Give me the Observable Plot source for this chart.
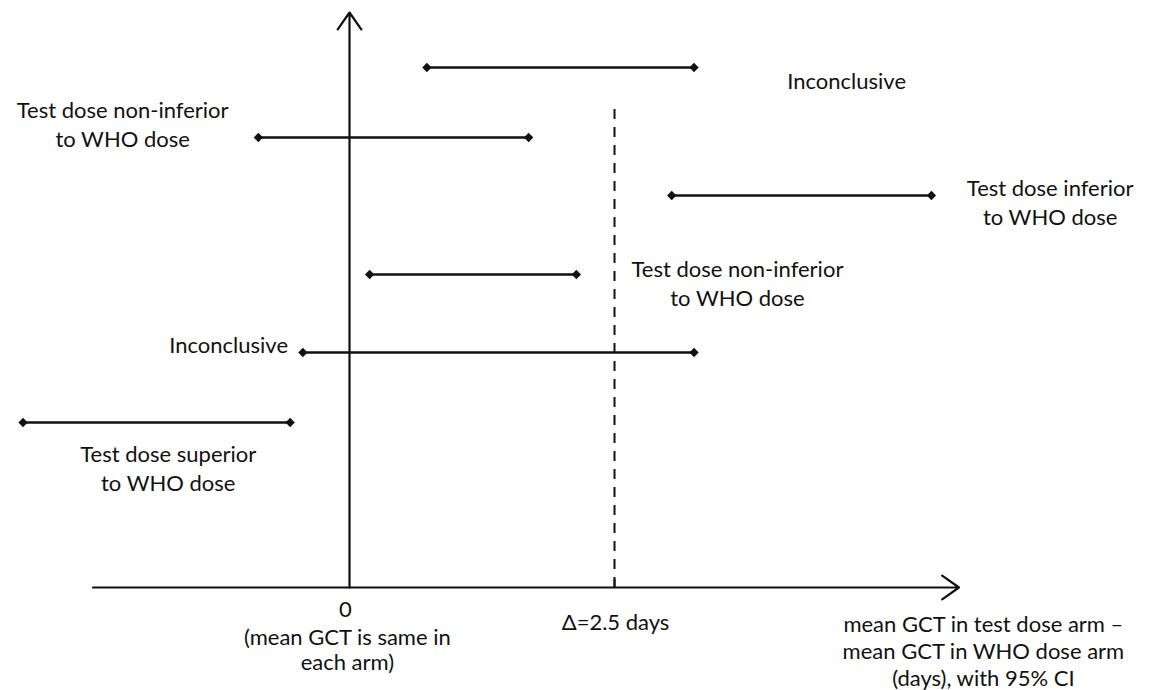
<!DOCTYPE html>
<html>
<head>
<meta charset="utf-8">
<script src="https://cdn.jsdelivr.net/npm/d3@7"></script>
<script src="https://cdn.jsdelivr.net/npm/@observablehq/plot@0.6"></script>
<style>
  html, body { margin: 0; padding: 0; background: #fff; }
  #chart svg { display: block; }
</style>
</head>
<body>
<div id="chart"></div>
<script>
// Confidence intervals (difference in mean GCT, days), with vertical level (arbitrary units above the x-axis)
const ciLow   = [0.73, -0.86, 3.04, 0.19, -0.44, -3.08];
const ciHigh  = [3.25, 1.69, 5.49, 2.14, 3.25, -0.56];
const ciLevel = [520, 450, 392, 313, 235, 165];

const margin = 2.5; // non-inferiority margin Δ (days)

// Annotation labels
const labelText = [
  "Inconclusive",
  "Test dose non-inferior\nto WHO dose",
  "Test dose inferior\nto WHO dose",
  "Test dose non-inferior\nto WHO dose",
  "Test dose superior\nto WHO dose"
];
const labelX = [4.69, -2.14, 6.61, 3.66, -1.71];
const labelY = [508, 464, 386, 305, 120];

const inconclusive2 = "Inconclusive";
const axisTickLabels = ["0", "Δ=2.5 days"];
const zeroNote = "(mean GCT is same in\neach arm)";
const xAxisTitle = "mean GCT in test dose arm –\nmean GCT in WHO dose arm\n(days), with 95% CI";

const cis = ciLow.map((lo, i) => ({lo, hi: ciHigh[i], y: ciLevel[i]}));
const ends = cis.flatMap(d => [{x: d.lo, y: d.y}, {x: d.hi, y: d.y}]);
const labels = labelText.map((t, i) => ({t, x: labelX[i], y: labelY[i]}));

const font = "Lato, 'Open Sans', sans-serif";
const ink = "#111";
const fs = 22;

const chart = Plot.plot({
  width: 1158,
  height: 690,
  margin: 0,
  style: {background: "#fff", fontFamily: font},
  x: {type: "linear", domain: [0, margin], range: [349, 614], axis: null},
  y: {type: "linear", domain: [0, 575], range: [587, 12], axis: null},
  marks: [
    // dashed margin line
    Plot.ruleX([margin], {y1: 0, y2: 480, stroke: ink, strokeWidth: 2, strokeDasharray: "10,8"}),
    // tick at margin
    Plot.ruleX([margin], {y1: 0, y2: 8, stroke: ink, strokeWidth: 2}),
    // axes as arrows
    Plot.arrow([{x1: -2.42, x2: 5.75, y1: 0, y2: 0}], {x1: "x1", y1: "y1", x2: "x2", y2: "y2", stroke: ink, strokeWidth: 2.2, headLength: 14, headAngle: 70}),
    Plot.arrow([{x1: 0, x2: 0, y1: 0, y2: 575}], {x1: "x1", y1: "y1", x2: "x2", y2: "y2", stroke: ink, strokeWidth: 2.2, headLength: 14, headAngle: 70}),
    // confidence intervals
    Plot.link(cis, {x1: "lo", x2: "hi", y1: "y", y2: "y", stroke: ink, strokeWidth: 2.6}),
    Plot.dot(ends, {x: "x", y: "y", symbol: "diamond2", r: 4.2, fill: ink, stroke: null}),
    // annotation labels
    Plot.text(labels, {x: "x", y: "y", text: "t", fontSize: fs, lineHeight: 1.32, fill: ink, textAnchor: "middle"}),
    Plot.text([inconclusive2], {x: -0.58, y: 242, text: d => d, fontSize: fs, fill: ink, textAnchor: "end"}),
    Plot.text([axisTickLabels[0]], {x: -0.04, y: -22, text: d => d, fontSize: fs, fill: ink}),
    Plot.text([axisTickLabels[1]], {x: 2.51, y: -35, text: d => d, fontSize: fs, fill: ink}),
    Plot.text([zeroNote], {x: -0.02, y: -62, text: d => d, fontSize: fs, lineHeight: 1.14, fill: ink}),
    Plot.text([xAxisTitle], {x: 5.98, y: -63, text: d => d, fontSize: fs, lineHeight: 1.23, fill: ink})
  ]
});
document.getElementById("chart").appendChild(chart);
</script>
</body>
</html>
